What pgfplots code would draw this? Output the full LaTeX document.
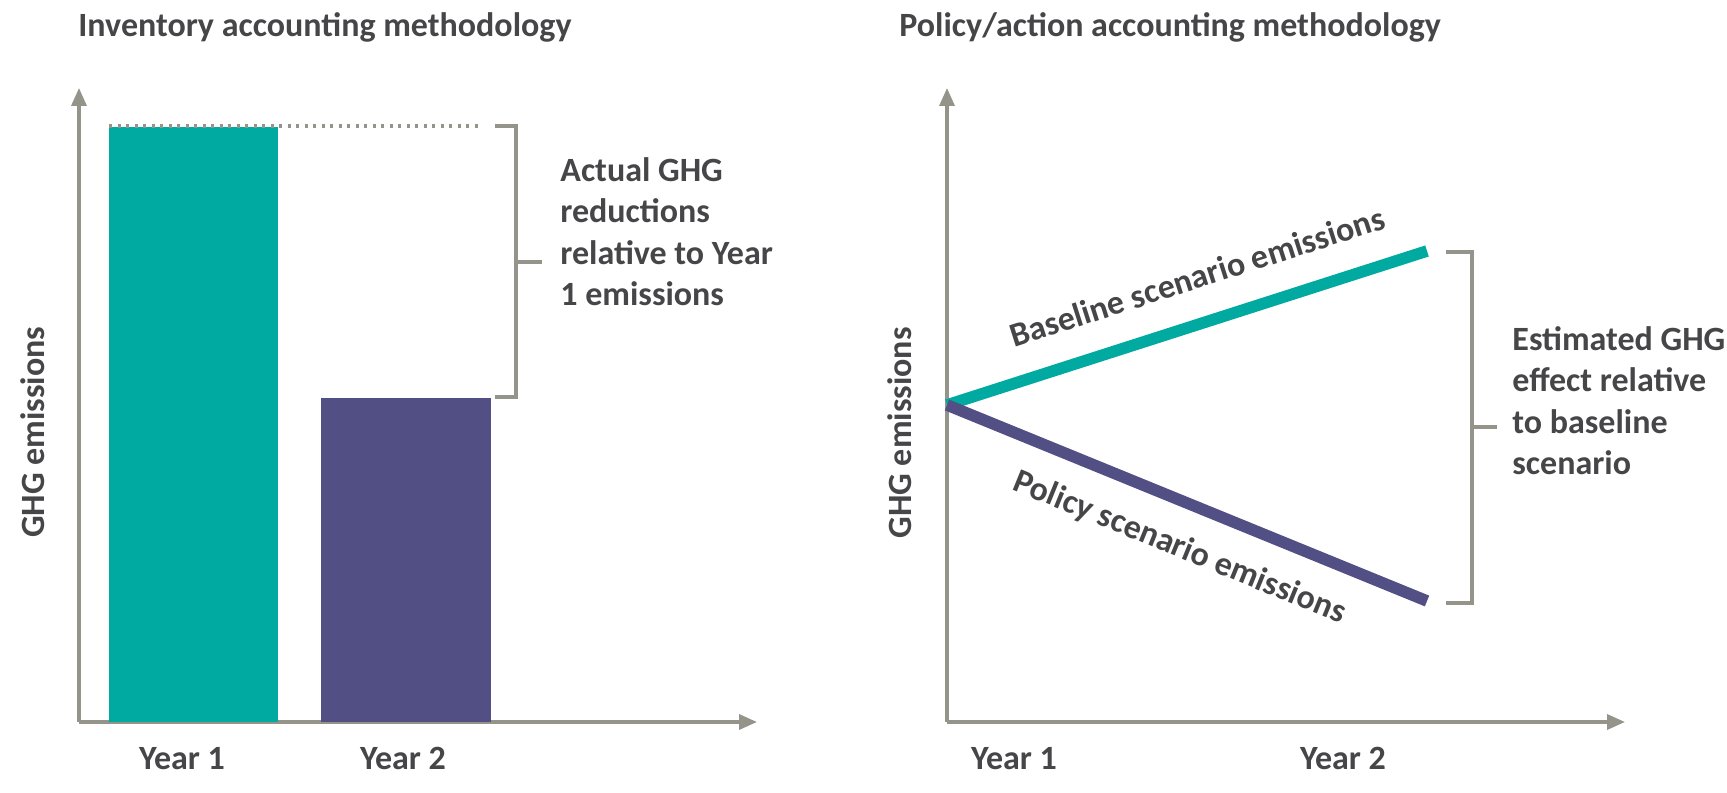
\documentclass[border=0pt]{standalone}
\usepackage{fontspec}
\setmainfont{Carlito}
\usepackage{pgfplots}
\pgfplotsset{compat=1.18}
\usetikzlibrary{arrows.meta}
\definecolor{tealc}{RGB}{0,170,160}
\definecolor{purp}{RGB}{82,79,132}
\definecolor{axgray}{RGB}{148,148,138}
\definecolor{txt}{RGB}{70,70,72}
\pgfplotsset{
  myaxis/.style={
    scale only axis, width=339pt, height=317pt,
    xmin=0, xmax=678, ymin=0, ymax=634,
    axis lines=left,
    axis line style={line width=1.65pt, draw=axgray, -{Triangle[length=9pt,width=7.5pt]}},
    ytick=\empty,
    major tick length=0pt,
    tick style={draw=none},
    clip=false,
    xticklabel style={text=txt, anchor=base, inner sep=0pt, yshift=-23.5pt},
    title style={anchor=base west, inner sep=0pt, text=txt},
  }
}
\begin{document}
\fontsize{17pt}{20.75pt}\selectfont\bfseries
\begin{tikzpicture}[every node/.append style={text=txt}]
\useasboundingbox (0,0) rectangle (863.5pt,396pt);
% ---------- Left panel ----------
\begin{axis}[myaxis,
  at={(39.5pt,35pt)}, anchor=south west,
  xtick={103,324}, xticklabels={Year 1, Year 2},
  ylabel={GHG emissions},
  ylabel style={at={(axis description cs:-0.0678,0.457)}, anchor=center, inner sep=0pt, text=txt},
  title={Inventory accounting methodology},
  title style={at={(axis description cs:-0.0015,1.063)}},
]
\addplot[ybar, bar width=169, bar shift=0pt, fill=tealc, draw=none] coordinates {(114.5,595)};
\addplot[ybar, bar width=170, bar shift=0pt, fill=purp, draw=none] coordinates {(327,324)};
\addplot[axgray, line width=1.6pt, dash pattern=on 1.5pt off 2.75pt] coordinates {(30,596) (401,596)};
\addplot[axgray, line width=1.7pt, line join=miter] coordinates {(416,596) (437,596) (437,325) (416,325)};
\addplot[axgray, line width=1.7pt] coordinates {(437,460) (463,460)};
\node[anchor=base west, align=left, inner sep=0pt] at (axis cs:481,416)
  {Actual GHG\\reductions\\relative to Year\\1 emissions};
\end{axis}
% ---------- Right panel ----------
\begin{axis}[myaxis,
  at={(473.5pt,35pt)}, anchor=south west,
  xtick={67,396}, xticklabels={Year 1, Year 2},
  ylabel={GHG emissions},
  ylabel style={at={(axis description cs:-0.0693,0.456)}, anchor=center, inner sep=0pt, text=txt},
  title={Policy/action accounting methodology},
  title style={at={(axis description cs:-0.0708,1.063)}},
]
\addplot[tealc, line width=5.8pt] coordinates {(0,317) (480,471)}
  node[pos=0.55, sloped, above=14pt, inner sep=0pt, text=txt] {Baseline scenario emissions};
\addplot[purp, line width=5.8pt] coordinates {(0,317) (480,121)}
  node[pos=0.52, sloped, below=12pt, inner sep=0pt, text=txt] {Policy scenario emissions};
\addplot[axgray, line width=1.7pt, line join=miter] coordinates {(499,470) (525,470) (525,119) (499,119)};
\addplot[axgray, line width=1.7pt] coordinates {(525,295) (550,295)};
\node[anchor=base west, align=left, inner sep=0pt] at (axis cs:565,247)
  {Estimated GHG\\effect relative\\to baseline\\scenario};
\end{axis}
\end{tikzpicture}
\end{document}
